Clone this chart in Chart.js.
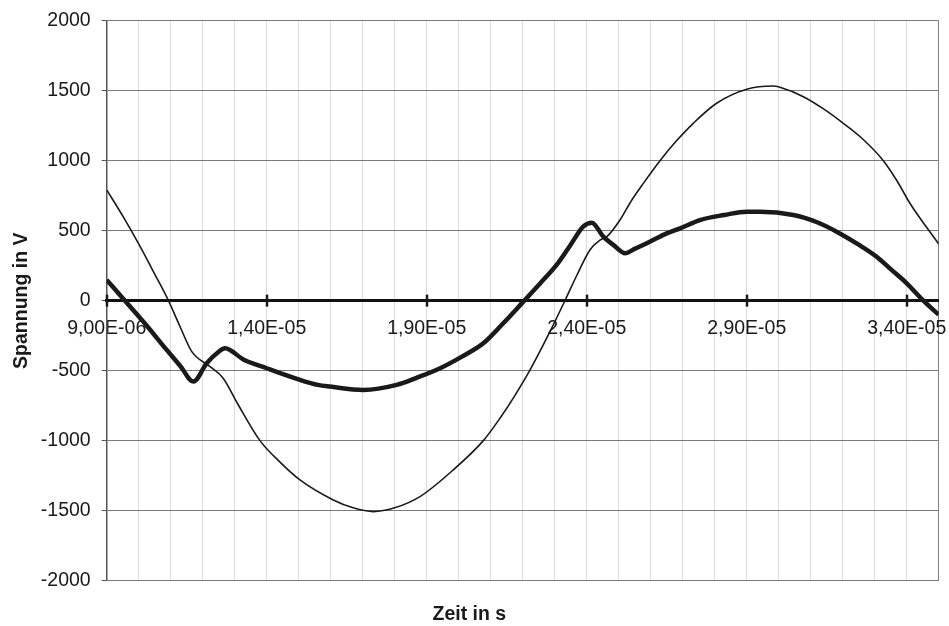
<!DOCTYPE html>
<html>
<head>
<meta charset="utf-8">
<script src="https://cdn.jsdelivr.net/npm/chart.js@4"></script>
<style>
  html, body { margin: 0; padding: 0; background: #ffffff; }
  #wrap { width: 949px; height: 626px; }
</style>
</head>
<body>
<div id="wrap"><canvas id="c" width="949" height="626"></canvas></div>
<script>
// Spannung U1 (dünne Linie): Zeit in s / Spannung in V
const zeitU1 = [
  9.00e-6, 9.50e-6, 10.0e-6, 10.5e-6, 10.93e-6, 11.3e-6, 11.66e-6, 12.23e-6, 12.64e-6, 13.1e-6,
  13.79e-6, 14.4e-6, 15.04e-6, 16.08e-6, 16.7e-6, 17.33e-6, 18.0e-6, 18.79e-6, 19.83e-6, 20.77e-6,
  21.29e-6, 21.75e-6, 22.23e-6, 22.8e-6, 23.32e-6, 23.7e-6, 24.10e-6, 24.42e-6, 24.63e-6, 25.04e-6,
  25.41e-6, 25.77e-6, 26.29e-6, 26.8e-6, 27.33e-6, 28.06e-6, 29.0e-6, 29.83e-6, 30.04e-6, 30.77e-6,
  31.4e-6, 32.02e-6, 32.6e-6, 33.27e-6, 33.7e-6, 34.10e-6, 35.0e-6
];
const spannungU1 = [
  791, 605, 405, 190, 0, -190, -364, -471, -554, -740,
  -1000, -1150, -1281, -1424, -1480, -1507, -1480, -1400, -1209, -1000,
  -840, -680, -495, -245, 0, 185, 362, 433, 457, 576,
  719, 838, 1000, 1140, 1267, 1410, 1510, 1533, 1524, 1457,
  1370, 1267, 1160, 1000, 855, 696, 405
];

// Spannung U2 (dicke Linie)
const zeitU2 = [
  9.00e-6, 9.57e-6, 10.2e-6, 10.875e-6, 11.3e-6, 11.71e-6, 12.125e-6, 12.5e-6, 12.7e-6, 13.27e-6,
  14.0e-6, 15.04e-6, 15.6e-6, 15.98e-6, 17.02e-6, 18.06e-6, 18.7e-6, 19.42e-6, 20.1e-6, 20.77e-6,
  21.4e-6, 22.02e-6, 22.55e-6, 23.06e-6, 23.5e-6, 23.89e-6, 24.16e-6, 24.52e-6, 24.85e-6, 25.2e-6,
  25.5e-6, 25.88e-6, 26.5e-6, 26.92e-6, 27.54e-6, 28.3e-6, 29.0e-6, 29.42e-6, 30.46e-6, 31.2e-6,
  31.81e-6, 32.5e-6, 33.06e-6, 33.5e-6, 34.0e-6, 34.52e-6, 35.0e-6
];
const spannungU2 = [
  148, 0, -165, -352, -467, -578, -447, -365, -340, -420,
  -483, -566, -602, -614, -638, -602, -550, -483, -400, -305,
  -160, -7, 125, 255, 400, 529, 557, 457, 395, 339,
  370, 410, 481, 517, 576, 612, 636, 636, 612, 560,
  493, 400, 314, 225, 124, 0, -100
];

// Achsen
const zeitMin = 9e-6, zeitMax = 3.5e-5, zeitSchritt = 1e-6, beschriftungAlle = 5;
const spannungMin = -2000, spannungMax = 2000, spannungSchritt = 500;
const titelX = 'Zeit in s';
const titelY = 'Spannung in V';

const FONT = '"Liberation Sans", Arial, Helvetica, sans-serif';
const TEXT = '#1a1a1a';

// Zahlenformat wie 9,00E-06
function formatExp(v) {
  const parts = v.toExponential(2).split('e');
  const exp = parseInt(parts[1], 10);
  return parts[0].replace('.', ',') + 'E' + (exp < 0 ? '-' : '+') + String(Math.abs(exp)).padStart(2, '0');
}

function toPoints(xs, ys) {
  return xs.map((x, i) => ({ x: x, y: ys[i] }));
}

function isMajor(scale, v) {
  return Math.round((v - scale.min) / zeitSchritt) % beschriftungAlle === 0;
}

// Teilstriche, die die Nulllinie kreuzen
const crossTicks = {
  id: 'crossTicks',
  afterDatasetsDraw(chart) {
    const xs = chart.scales.x, ys = chart.scales.y;
    const y0 = ys.getPixelForValue(0);
    const c = chart.ctx;
    c.save();
    c.strokeStyle = '#1a1a1a';
    c.lineWidth = 2.5;
    xs.ticks.forEach(t => {
      if (!isMajor(xs, t.value)) return;
      const px = Math.round(xs.getPixelForValue(t.value));
      c.beginPath();
      c.moveTo(px, y0 - 6);
      c.lineTo(px, y0 + 6);
      c.stroke();
    });
    c.restore();
  }
};

Chart.defaults.font.family = FONT;
Chart.defaults.font.size = 19.5;
Chart.defaults.color = TEXT;

new Chart(document.getElementById('c'), {
  type: 'scatter',
  data: {
    datasets: [
      {
        data: toPoints(zeitU1, spannungU1),
        showLine: true,
        borderColor: TEXT,
        borderWidth: 1.6,
        pointRadius: 0,
        cubicInterpolationMode: 'monotone'
      },
      {
        data: toPoints(zeitU2, spannungU2),
        showLine: true,
        borderColor: TEXT,
        borderWidth: 4.5,
        pointRadius: 0,
        cubicInterpolationMode: 'monotone'
      }
    ]
  },
  options: {
    responsive: false,
    animation: false,
    devicePixelRatio: 1,
    layout: { padding: { top: 20.7, right: 10.3, left: 0, bottom: 0 } },
    plugins: {
      legend: { display: false },
      tooltip: { enabled: false },
      title: {
        display: true,
        text: titelX,
        position: 'bottom',
        color: TEXT,
        font: { size: 19.5, weight: 'bold', family: FONT },
        padding: { top: 22, bottom: 0 }
      }
    },
    scales: {
      x: {
        type: 'linear',
        position: { y: 0 },
        min: zeitMin,
        max: zeitMax,
        afterFit(s) { s.height = 0; s.paddingRight = 0; },
        ticks: {
          stepSize: zeitSchritt,
          autoSkip: false,
          maxRotation: 0,
          minRotation: 0,
          padding: 16.5,
          color: TEXT,
          callback(v) { return isMajor(this, v) ? formatExp(v) : ''; }
        },
        grid: {
          drawTicks: false,
          lineWidth: 1,
          color(ctx) {
            return ctx.index === ctx.scale.ticks.length - 1 ? '#808080' : '#dcdcdc';
          }
        },
        border: { display: true, color: '#111111', width: 3 }
      },
      y: {
        min: spannungMin,
        max: spannungMax,
        afterFit(s) { s.width = 106.7; s.paddingTop = 0; s.paddingBottom = 0; },
        ticks: {
          stepSize: spannungSchritt,
          padding: 11,
          color: TEXT,
          callback(v) { return String(v); }
        },
        grid: {
          lineWidth: 1,
          tickLength: 5,
          tickColor: '#555555',
          color(ctx) { return ctx.tick && ctx.tick.value === 0 ? '#111111' : '#7a7a7a'; }
        },
        border: { color: '#555555', width: 1.5 },
        title: {
          display: true,
          text: titelY,
          color: TEXT,
          font: { size: 19.5, weight: 'bold', family: FONT },
          padding: { top: 10, bottom: 0 }
        }
      }
    }
  },
  plugins: [crossTicks]
});
</script>
</body>
</html>
